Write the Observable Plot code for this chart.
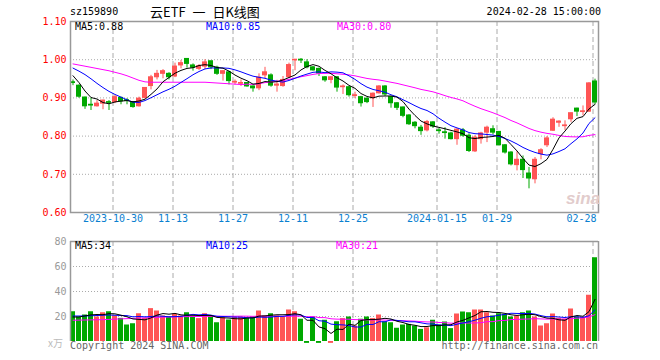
<!DOCTYPE html>
<html><head><meta charset="utf-8">
<script src="https://cdn.jsdelivr.net/npm/d3@7"></script>
<script src="https://cdn.jsdelivr.net/npm/@observablehq/plot@0.6"></script>
<style>
body{margin:0;background:#fff}
#wrap{position:relative;width:660px;height:360px;overflow:hidden;background:#fff;font-family:"DejaVu Sans Mono",monospace;font-size:10px}
.t{position:absolute;white-space:nowrap;line-height:10px;height:10px}
#wrap svg{position:absolute;left:0}
</style></head><body><div id="wrap"></div>
<script>
// ---- categories ----
const dates = ["2023-10-19","2023-10-20","2023-10-23","2023-10-24","2023-10-25","2023-10-26","2023-10-27","2023-10-30","2023-10-31",
"2023-11-01","2023-11-02","2023-11-03","2023-11-06","2023-11-07","2023-11-08","2023-11-09","2023-11-10","2023-11-13","2023-11-14","2023-11-15","2023-11-16","2023-11-17","2023-11-20","2023-11-21","2023-11-22","2023-11-23","2023-11-24","2023-11-27","2023-11-28","2023-11-29","2023-11-30",
"2023-12-01","2023-12-04","2023-12-05","2023-12-06","2023-12-07","2023-12-08","2023-12-11","2023-12-12","2023-12-13","2023-12-14","2023-12-15","2023-12-18","2023-12-19","2023-12-20","2023-12-21","2023-12-22","2023-12-25","2023-12-26","2023-12-27","2023-12-28","2023-12-29",
"2024-01-02","2024-01-03","2024-01-04","2024-01-05","2024-01-08","2024-01-09","2024-01-10","2024-01-11","2024-01-12","2024-01-15","2024-01-16","2024-01-17","2024-01-18","2024-01-19","2024-01-22","2024-01-23","2024-01-24","2024-01-25","2024-01-26","2024-01-29","2024-01-30","2024-01-31",
"2024-02-01","2024-02-02","2024-02-05","2024-02-06","2024-02-07","2024-02-08","2024-02-19","2024-02-20","2024-02-21","2024-02-22","2024-02-23","2024-02-26","2024-02-27","2024-02-28"];

// ---- series values ----
const open  = [0.941,0.932,0.901,0.882,0.878,0.885,0.889,0.889,0.900,0.894,0.889,0.878,0.900,0.931,0.954,0.963,0.963,0.956,0.985,1.002,0.985,0.976,0.982,0.996,0.979,0.963,0.967,0.940,0.937,0.939,0.930,0.925,0.959,0.959,0.932,0.931,0.954,0.998,1.000,0.993,0.980,0.976,0.954,0.947,0.954,0.928,0.928,0.905,0.902,0.898,0.899,0.912,0.930,0.902,0.886,0.875,0.854,0.835,0.822,0.815,0.836,0.815,0.810,0.807,0.792,0.815,0.801,0.760,0.792,0.809,0.818,0.811,0.776,0.757,0.724,0.738,0.702,0.687,0.753,0.776,0.814,0.835,0.826,0.844,0.872,0.863,0.864,0.943];
const high  = [0.947,0.934,0.902,0.900,0.893,0.894,0.893,0.906,0.902,0.898,0.890,0.902,0.927,0.959,0.972,0.974,0.966,0.991,0.998,1.003,0.989,0.987,1.000,0.996,0.983,0.971,0.970,0.947,0.947,0.940,0.931,0.963,0.980,0.963,0.946,0.956,0.991,1.000,1.003,1.000,0.982,0.978,0.956,0.956,0.956,0.934,0.930,0.915,0.904,0.900,0.913,0.932,0.932,0.904,0.888,0.876,0.856,0.838,0.828,0.841,0.838,0.820,0.822,0.810,0.819,0.820,0.806,0.801,0.810,0.826,0.827,0.812,0.778,0.759,0.759,0.748,0.718,0.744,0.767,0.799,0.848,0.840,0.840,0.861,0.873,0.879,0.940,0.949];
const low   = [0.932,0.899,0.870,0.867,0.876,0.869,0.867,0.885,0.882,0.882,0.873,0.876,0.897,0.921,0.947,0.950,0.947,0.953,0.976,0.978,0.970,0.972,0.974,0.974,0.959,0.944,0.934,0.934,0.930,0.928,0.915,0.919,0.950,0.928,0.915,0.928,0.951,0.971,0.990,0.976,0.970,0.956,0.941,0.937,0.915,0.909,0.902,0.898,0.876,0.885,0.875,0.910,0.904,0.873,0.867,0.848,0.828,0.819,0.802,0.811,0.820,0.805,0.792,0.790,0.776,0.797,0.757,0.757,0.779,0.783,0.803,0.774,0.753,0.722,0.709,0.689,0.662,0.675,0.738,0.770,0.812,0.823,0.815,0.836,0.851,0.853,0.862,0.882];
const close = [0.939,0.903,0.878,0.880,0.885,0.893,0.887,0.902,0.891,0.892,0.876,0.898,0.926,0.954,0.963,0.970,0.954,0.982,0.991,0.989,0.979,0.983,0.993,0.980,0.963,0.970,0.944,0.942,0.939,0.930,0.925,0.953,0.967,0.932,0.935,0.947,0.986,1.000,0.998,0.980,0.972,0.964,0.946,0.954,0.927,0.930,0.907,0.907,0.886,0.889,0.911,0.930,0.909,0.886,0.874,0.853,0.831,0.826,0.813,0.837,0.825,0.813,0.808,0.792,0.817,0.801,0.761,0.796,0.807,0.822,0.809,0.776,0.757,0.726,0.738,0.711,0.689,0.738,0.763,0.794,0.843,0.838,0.828,0.860,0.864,0.865,0.938,0.888];
// volume, 万手
const volume = [23.8,19.6,21.2,23.8,19.6,23.0,23.8,20.4,18.5,13.2,14.2,22.2,18.5,26.3,24.4,20.4,19.6,21.7,20.4,23.0,20.4,18.3,22.2,20.4,15.0,19.0,17.2,19.6,19.6,18.5,19.6,24.4,20.4,22.2,20.4,19.6,25.2,23.8,17.8,-1.5,19.6,-1.5,17.0,-1.5,15.8,18.3,19.6,12.4,17.8,19.6,18.3,21.2,15.8,15.0,10.6,13.2,13.7,12.4,9.7,11.0,17.0,13.2,15.6,10.3,22.0,23.6,23.0,25.2,25.2,23.0,20.4,22.2,21.7,19.6,20.4,23.0,24.4,19.6,12.4,14.2,22.0,18.5,17.8,26.0,19.6,19.0,37.0,67.0];

// moving-average values before a full window is available
const ma5Lead  = [0.958,0.940,0.918,0.901];
const ma10Lead = [0.978,0.970,0.961,0.950,0.938,0.927,0.917,0.909,0.902];
const ma30Lead = [0.989,0.986,0.983,0.980,0.977,0.974,0.971,0.967,0.963,0.958,0.952,0.946,0.942,0.941,0.941,0.941,0.941,0.941,0.941,0.941,0.941,0.941,0.941,0.940,0.939,0.938,0.937,0.936,0.935];
const vma5Lead  = [19.6,19.6,20.5,21.3];
const vma10Lead = [20.4,20.4,20.4,20.6,20.8,21.0,21.2,21.0,20.8];
const vma30Lead = [17.0,17.1,17.2,17.3,17.4,17.5,17.7,17.9,18.1,18.3,18.5,18.7,18.9,19.1,19.3,19.5,19.6,19.7,19.8,19.9,20.0,20.0,20.1,20.1,20.2,20.2,20.2,20.2,20.3];

// ---- tick labels ----
const tickDates  = ["2023-10-30","2023-11-13","2023-11-27","2023-12-11","2023-12-25","2024-01-15","2024-01-29","2024-02-28"];
const tickLabels = ["2023-10-30","11-13","11-27","12-11","12-25","2024-01-15","01-29","02-28"];
const priceTicks = [0.60,0.70,0.80,0.90,1.00,1.10];
const volTicks   = [20,40,60,80];

// ---- build ----
const RED = "#ff5555", GREEN = "#00a800", GRID = "#aaaaaa";
const rows = dates.map((d, i) => ({i, d, o: open[i], h: high[i], l: low[i], c: close[i], v: volume[i],
  col: close[i] >= open[i] ? RED : GREEN}));
const ma = (arr, k, lead) => arr.map((_, i) => i < k - 1 ? lead[i] : d3.mean(arr.slice(i - k + 1, i + 1)));
const mid = i => i + 2.5 / 6;
const ticks = tickDates.map((d, j) => ({i: dates.indexOf(d), label: tickLabels[j]}));
const maLine = (vals, color) => Plot.line(vals.map((v, i) => ({i, v})), {x: d => mid(d.i), y: "v", stroke: color, strokeWidth: 1});
const style = {fontFamily: "DejaVu Sans Mono, monospace", fontSize: "10px", background: "transparent", overflow: "visible"};
const N = dates.length;

const price = Plot.plot({
  width: 660, height: 236, marginTop: 21, marginBottom: 24, marginLeft: 70, marginRight: 62,
  style,
  x: {type: "linear", domain: [0, N], axis: null},
  y: {domain: [0.6, 1.1], axis: null, label: null},
  color: {type: "identity"},
  marks: [
    Plot.ruleY(priceTicks.slice(1, -1), {stroke: GRID, strokeDasharray: "1,2"}),
    Plot.ruleX(ticks, {x: d => d.i + 0.5 / 6, stroke: GRID, strokeDasharray: "5,3"}),
    Plot.ruleX(rows, {x: d => mid(d.i), y1: "l", y2: "h", stroke: "col", strokeWidth: 1}),
    Plot.rect(rows, {x1: "i", x2: d => d.i + 5 / 6, y1: "o", y2: "c", fill: "col", insetTop: -0.5, insetBottom: -0.5}),
    maLine(ma(close, 30, ma30Lead), "#ff00ff"),
    maLine(ma(close, 10, ma10Lead), "#0000ff"),
    maLine(ma(close, 5, ma5Lead), "#000000"),
    Plot.frame({stroke: "#999", strokeWidth: 1.5}),
    Plot.axisY(priceTicks, {anchor: "left", tickSize: 0, tickPadding: 4, fill: "#ff0000", tickFormat: d3.format(".2f"), label: null}),
    Plot.text(ticks.slice(0, -1), {x: d => d.i + 0.5 / 6, text: "label", frameAnchor: "bottom", dy: 9, fill: "#0a80d0"}),
    Plot.text(ticks.slice(-1), {x: d => d.i + 0.5 / 6, text: "label", frameAnchor: "bottom", dy: 9, dx: 3.5, textAnchor: "end", fill: "#0a80d0"})
  ]
});

const vol = Plot.plot({
  width: 660, height: 124, marginTop: 5, marginBottom: 19, marginLeft: 70, marginRight: 62,
  style,
  x: {type: "linear", domain: [0, N], axis: null},
  y: {domain: [0, 80], axis: null, label: null},
  color: {type: "identity"},
  marks: [
    Plot.ruleY(volTicks.slice(0, -1), {stroke: GRID, strokeDasharray: "1,2"}),
    Plot.ruleX(ticks, {x: d => d.i + 0.5 / 6, stroke: GRID, strokeDasharray: "5,3"}),
    Plot.rect(rows, {x1: "i", x2: d => d.i + 5 / 6, y1: 0, y2: "v", fill: "col"}),
    maLine(ma(volume, 30, vma30Lead), "#ff00ff"),
    maLine(ma(volume, 10, vma10Lead), "#0000ff"),
    maLine(ma(volume, 5, vma5Lead), "#000000"),
    Plot.ruleX([0, N], {x: d => d, stroke: "#999", strokeWidth: 1.5}),
    Plot.ruleY([80], {stroke: "#999", strokeWidth: 1.5}),
    Plot.axisY(volTicks, {anchor: "left", tickSize: 0, tickPadding: 4, fill: "#999", label: null})
  ]
});

const wrap = document.getElementById("wrap");
price.style.top = "0px";
vol.style.top = "236px";
wrap.appendChild(price);
wrap.appendChild(vol);

function txt(s, o) {
  const el = document.createElement("div");
  el.className = "t";
  el.textContent = s;
  Object.assign(el.style, o);
  wrap.appendChild(el);
  return el;
}
const f = d3.format(".2f");
const last = arr => arr[arr.length - 1];
// header
txt("sz159890", {left: "70px", top: "7px", color: "#000"});
txt("云ETF 一 日K线图", {left: "150px", top: "5px", fontFamily: "'Noto Sans CJK SC', sans-serif", fontSize: "13px", lineHeight: "14px", height: "14px", wordSpacing: "4px", color: "#000"});
txt(dates[N - 1] + " 15:00:00", {right: "59px", top: "7px", color: "#000"});
// MA labels (price)
const m5 = ma(close, 5, ma5Lead), m10 = ma(close, 10, ma10Lead), m30 = ma(close, 30, ma30Lead);
txt("MA5:" + f(last(m5)), {left: "75px", top: "22px", color: "#000"});
txt("MA10:" + f(last(m10)), {left: "206px", top: "22px", color: "#0000ff"});
txt("MA30:" + f(last(m30)), {left: "337px", top: "22px", color: "#ff00ff"});
// MA labels (volume)
const v5 = ma(volume, 5, vma5Lead), v10 = ma(volume, 10, vma10Lead), v30 = ma(volume, 30, vma30Lead);
txt("MA5:" + Math.round(last(v5)), {left: "75px", top: "241px", color: "#000"});
txt("MA10:" + Math.round(last(v10)), {left: "206px", top: "241px", color: "#0000ff"});
txt("MA30:" + Math.round(last(v30)), {left: "336px", top: "241px", color: "#ff00ff"});
// unit, footer, watermark
txt("x万", {left: "48px", top: "338px", color: "#bbb", fontFamily: "'Noto Sans CJK SC', sans-serif"});
txt("Copyright 2024 SINA.COM", {left: "70px", top: "341px", color: "#666"});
txt("http://finance.sina.com.cn", {right: "62px", top: "341px", color: "#666"});
txt("sina", {left: "566px", top: "190px", fontFamily: "'Liberation Sans', sans-serif", fontWeight: "bold", fontStyle: "italic", fontSize: "17px", lineHeight: "17px", height: "17px", color: "#e2cccc"});
</script></body></html>
